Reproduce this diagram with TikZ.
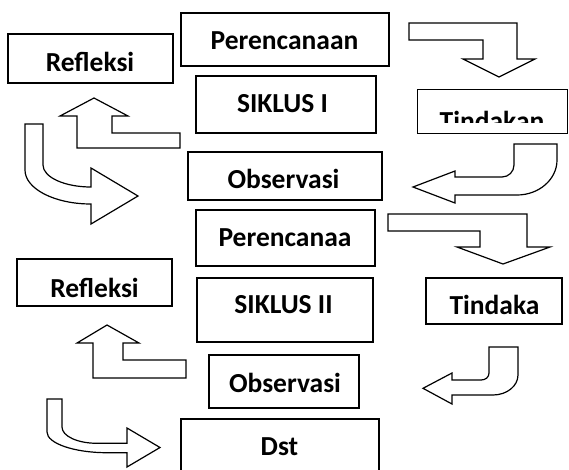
\documentclass[tikz,border=0pt]{standalone}
\usepackage{fontspec}
\setmainfont{Carlito}
\begin{document}
\begin{tikzpicture}[x=1pt,y=-1pt,
  box/.style={draw, line width=1.7pt, rectangle, inner sep=0pt, fill=white},
  lbl/.style={anchor=base, inner sep=0pt, font=\fontsize{27.5}{32}\selectfont\bfseries},
  blockarrow/.style={draw, line width=1.2pt, fill=white, line join=miter}]
\useasboundingbox (0,0) rectangle (569,469);
\clip (0,0) rectangle (569,469);
% boxes
\node[box, minimum width=165pt, minimum height=49pt] (ref1) at (90.5,58.5) {};
\node[box, minimum width=208pt, minimum height=53pt] (per1) at (285,39.5) {};
\node[box, minimum width=180pt, minimum height=57pt] (sik1) at (286,104.5) {};
\node[box, minimum width=194pt, minimum height=48pt] (obs1) at (285,176) {};
\node[box, minimum width=150pt, minimum height=44pt] (tin1) at (492.5,111.5) {};
\node[box, minimum width=179pt, minimum height=56pt] (per2) at (285.5,238) {};
\node[box, minimum width=155pt, minimum height=47pt] (ref2) at (94.5,282.5) {};
\node[box, minimum width=176pt, minimum height=64pt] (sik2) at (285,310) {};
\node[box, minimum width=136pt, minimum height=46pt] (tin2) at (494,301) {};
\node[box, minimum width=150pt, minimum height=53pt] (obs2) at (284,381.5) {};
\node[box, minimum width=198pt, minimum height=61pt] (dst) at (280,449.5) {};
% labels
\node[lbl] (ref1t) at (90,71) {Refleksi};
\node[lbl] (per1t) at (284.5,49.5) {Perencanaan};
\node[lbl] (sik1t) at (282.5,112) {SIKLUS I};
\node[lbl] (obs1t) at (283.5,188.5) {Observasi};
\begin{scope}
  \clip (418,90) rectangle (567,122.5);
  \node[lbl] (tin1t) at (492,130) {Tindakan};
\end{scope}
\node[lbl] (per2t) at (285,246.5) {Perencanaa};
\node[lbl] (ref2t) at (94.5,297.5) {Refleksi};
\node[lbl] (sik2t) at (283.5,313.5) {SIKLUS II};
\node[lbl] (tin2t) at (494.5,314.5) {Tindaka};
\node[lbl] (obs2t) at (285,392.5) {Observasi};
\node[lbl] (dstt) at (279.5,455.5) {Dst};
% bent-down arrows (right)
\draw[blockarrow] (409,23) -- (517,23) -- (517,59) -- (535,59) -- (499,77) -- (463,59) -- (483,59) -- (483,40) -- (409,40) -- cycle;
\draw[blockarrow] (388,214) -- (527,214) -- (527,247) -- (550,247) -- (503,264) -- (457,247) -- (480,247) -- (480,231) -- (388,231) -- cycle;
% bent-up arrows (left)
\draw[blockarrow] (180,133) -- (180,148) -- (77,148) -- (77,116) -- (60,116) -- (94,98) -- (128,116) -- (112,116) -- (112,133) -- cycle;
\draw[blockarrow] (186,360) -- (186,378) -- (93,378) -- (93,343) -- (77,343) -- (107,325) -- (139,343) -- (123,343) -- (123,360) -- cycle;
% curved arrow, cycle I left (down then right)
\draw[blockarrow] (25,124) -- (43,124) -- (43,165) .. controls (43,177.2) and (64.5,187) .. (91,187) -- (91,168) -- (138,196) -- (91,224) -- (91,204) .. controls (54.5,204) and (25,188.8) .. (25,170) -- cycle;
% curved arrow, cycle I right (down then left)
\draw[blockarrow] (514,144) -- (557,144) -- (557,160) .. controls (557,179.3) and (539.1,195) .. (517,195) -- (455,195) -- (455,203) -- (413,187) -- (455,171) -- (455,177) -- (502,177) .. controls (508.6,177) and (514,171.6) .. (514,165) -- cycle;
% curved arrow, cycle II left
\draw[blockarrow] (47,399) -- (62,399) -- (62,427) .. controls (62,436.2) and (77.7,443.3) .. (97,443.3) -- (127,443.3) -- (127,428) -- (160,447.5) -- (127,467) -- (127,452.7) -- (107,452.7) .. controls (73.9,452.7) and (47,443.3) .. (47,432) -- cycle;
% curved arrow, cycle II right
\draw[blockarrow] (489,347) -- (518,347) -- (518,375) .. controls (518,386) and (506.8,395) .. (493,395) -- (452,395) -- (452,404) -- (423,388.3) -- (452,373) -- (452,380) -- (481,380) .. controls (485.4,380) and (489,377.3) .. (489,373) -- cycle;
\end{tikzpicture}
\end{document}
